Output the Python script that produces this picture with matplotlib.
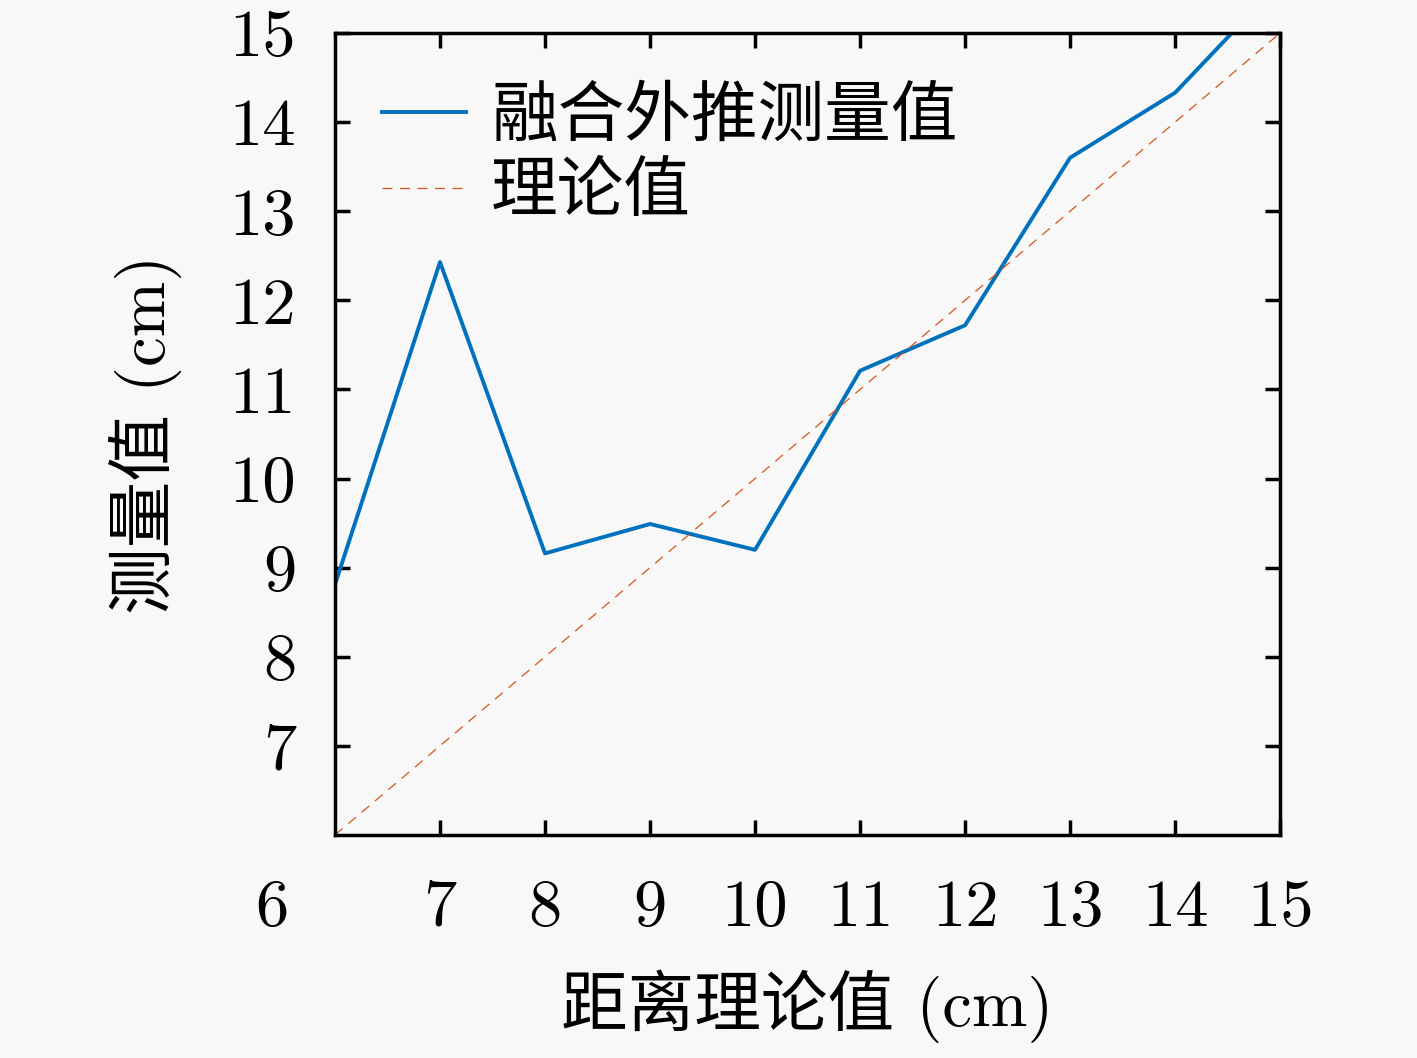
import matplotlib
matplotlib.use('Agg')
import matplotlib.pyplot as plt

# 数据
x_dist = [6, 7, 8, 9, 10, 11, 12, 13, 14, 15]
y_fused = [8.81, 12.43, 9.16, 9.49, 9.20, 11.21, 11.72, 13.60, 14.33, 15.57]
x_theory = [6, 15]
y_theory = [6, 15]
x_tick_vals = [7, 8, 9, 10, 11, 12, 13, 14, 15]
y_tick_vals = [7, 8, 9, 10, 11, 12, 13, 14, 15]
x_ticklabels = ['7', '8', '9', '10', '11', '12', '13', '14', '15']
y_ticklabels = ['7', '8', '9', '10', '11', '12', '13', '14', '15']

plt.rcParams['font.family'] = ['cmr10', 'Noto Sans CJK SC']
plt.rcParams['axes.unicode_minus'] = False

fs = 48
fig = plt.figure(figsize=(14.17, 10.58), dpi=100, facecolor='#f8f8f8')
ax = fig.add_axes([0.2364, 0.2108, 0.667, 0.7580])
ax.set_facecolor('#f8f8f8')

ax.plot(x_dist, y_fused, color='#0072BD', linewidth=2.8, label='融合外推测量值')
ax.plot(x_theory, y_theory, color='#D95319', linewidth=0.9, dashes=(8, 6), label='理论值')

ax.set_xlim(6, 15)
ax.set_ylim(6, 15)

ax.set_xticks(x_tick_vals)
ax.set_xticklabels(x_ticklabels)
ax.set_yticks(y_tick_vals)
ax.set_yticklabels(y_ticklabels)
ax.tick_params(direction='in', length=11, width=2.5, labelsize=fs,
               top=True, right=True, pad=28)
ax.tick_params(axis='x', pad=32)
# 角落的 "6"
ax.annotate('6', xy=(-0.0667, 0), xycoords='axes fraction', xytext=(0, -32),
            textcoords='offset points', fontsize=fs, ha='center', va='top')

for s in ax.spines.values():
    s.set_linewidth(2.5)

ax.set_xlabel('距离理论值 (cm)', fontsize=fs, labelpad=22)
ax.set_ylabel('测量值 (cm)', fontsize=fs, labelpad=34)

leg = ax.legend(loc='upper left', frameon=False, fontsize=fs, handlelength=1.25,
                handletextpad=0.38, labelspacing=0.22, borderaxespad=0.0,
                bbox_to_anchor=(0.022, 0.966))

plt.savefig('out.png', dpi=100, facecolor='#f8f8f8')
